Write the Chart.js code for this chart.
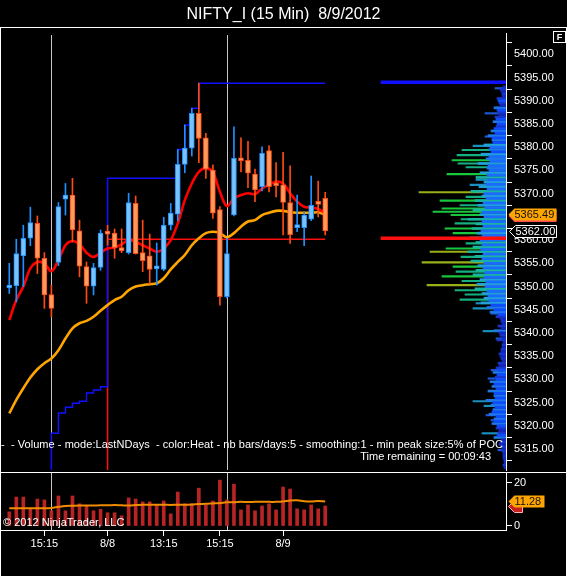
<!DOCTYPE html>
<html>
<head>
<meta charset="utf-8">
<script src="https://cdn.jsdelivr.net/npm/chart.js@4/dist/chart.umd.min.js"></script>
<style>
  body { margin: 0; background: #000; width: 567px; height: 576px; overflow: hidden; position: relative;
         font-family: "Liberation Sans", Arial, sans-serif; color: #fff; }
  canvas { position: absolute; left: 0; display: block; }
  .rule { position: absolute; background: #fff; }
  .txt { position: absolute; white-space: pre; font-size: 11px; line-height: 13px; }
  #title { position: absolute; left: 0; top: 5px; width: 567px; text-align: center; font-size: 16px; line-height: 17px; }
  #fbox { position: absolute; left: 553px; top: 31px; width: 11px; height: 10px; border: 1px solid #fff;
          font-size: 9px; font-weight: bold; line-height: 10px; text-align: center; }
</style>
</head>
<body>
<canvas id="price" width="567" height="481" style="top:0"></canvas>
<canvas id="vol" width="567" height="116" style="top:460px"></canvas>

<div id="title">NIFTY_I (15 Min)&nbsp; 8/9/2012</div>
<div class="rule" style="left:0;top:27px;width:567px;height:1px"></div>
<div class="rule" style="left:0;top:472px;width:567px;height:1px"></div>
<div class="rule" style="left:0;top:27px;width:1px;height:549px"></div>
<div class="rule" style="left:566px;top:27px;width:1px;height:549px"></div>
<div id="fbox">F</div>
<div class="txt" style="left:1px;top:438px;letter-spacing:0.05px">-  - Volume - mode:LastNDays  - color:Heat - nb bars/days:5 - smoothing:1 - min peak size:5% of POC</div>
<div class="txt" style="right:76px;top:450px">Time remaining = 00:09:43</div>
<div class="txt" style="left:3px;top:516px">© 2012 NinjaTrader, LLC</div>

<script>
// 15 min bars, oldest first
const candleOpen  = [5349.7, 5350.2, 5356.6, 5360.4, 5363.6, 5356.1, 5348.3, 5355.2, 5368.8, 5369.7,
                     5362.0, 5354.3, 5350.1, 5354.1, 5361.6, 5361.5, 5358.4, 5357.3, 5367.9, 5357.3,
                     5356.6, 5353.8, 5353.7, 5363.2, 5365.6, 5376.3, 5379.8, 5387.3, 5382.0, 5375.1,
                     5366.6, 5347.8, 5365.4, 5377.6, 5377.2, 5374.2, 5371.5, 5379.3, 5372.1, 5371.9,
                     5368.1, 5362.7, 5362.7, 5364.5, 5368.1, 5369.0];
const candleHigh  = [5355.0, 5360.2, 5363.2, 5367.1, 5365.2, 5357.3, 5350.3, 5368.1, 5372.2, 5373.3,
                     5364.3, 5355.3, 5355.0, 5362.2, 5363.2, 5362.4, 5362.4, 5370.1, 5369.5, 5364.3,
                     5361.3, 5359.4, 5364.9, 5367.9, 5379.5, 5384.8, 5388.4, 5393.8, 5383.0, 5376.2,
                     5367.2, 5360.4, 5384.4, 5382.0, 5381.3, 5375.3, 5380.1, 5380.3, 5376.7, 5378.9,
                     5376.0, 5369.7, 5366.1, 5373.8, 5372.7, 5370.3];
const candleLow   = [5348.5, 5346.7, 5350.0, 5358.8, 5352.8, 5345.3, 5343.5, 5354.5, 5365.4, 5359.6,
                     5352.1, 5346.4, 5348.2, 5353.5, 5358.9, 5356.1, 5357.3, 5357.0, 5357.0, 5353.2,
                     5350.6, 5350.3, 5353.4, 5362.2, 5364.2, 5374.5, 5378.1, 5376.7, 5373.3, 5364.7,
                     5346.0, 5347.5, 5365.2, 5374.7, 5371.3, 5368.3, 5370.6, 5370.4, 5369.3, 5361.1,
                     5359.3, 5361.8, 5358.8, 5364.2, 5365.0, 5361.1];
const candleClose = [5350.0, 5357.1, 5360.4, 5363.8, 5356.1, 5348.2, 5345.3, 5367.2, 5369.7, 5362.2,
                     5354.4, 5350.1, 5354.1, 5361.5, 5361.3, 5358.4, 5357.7, 5368.1, 5357.1, 5355.6,
                     5353.7, 5354.1, 5363.2, 5365.8, 5376.3, 5379.8, 5387.3, 5381.9, 5375.3, 5365.8,
                     5347.8, 5357.1, 5377.6, 5377.1, 5374.4, 5370.8, 5378.7, 5371.5, 5371.7, 5368.1,
                     5361.2, 5362.9, 5365.4, 5367.5, 5367.7, 5362.0];

const fastMA = [5342.8, 5347.1, 5350.0, 5353.9, 5355.3, 5355.0, 5353.3, 5355.7, 5358.9, 5359.8,
                5359.1, 5357.3, 5356.4, 5357.3, 5358.2, 5358.4, 5359.1, 5360.0, 5359.6, 5358.9,
                5358.2, 5357.5, 5358.2, 5360.0, 5363.6, 5368.6, 5372.2, 5374.7, 5375.5, 5374.6,
                5370.4, 5367.3, 5369.0, 5369.7, 5370.1, 5369.9, 5371.1, 5371.9, 5372.6, 5372.2,
                5370.1, 5368.3, 5367.2, 5367.0, 5366.7, 5365.8];
const slowMA = [5322.7, 5325.6, 5328.1, 5330.4, 5332.2, 5333.5, 5334.5, 5336.3, 5338.8, 5341.0,
                5342.1, 5342.6, 5343.5, 5344.8, 5346.0, 5347.1, 5347.8, 5349.2, 5350.0, 5350.3,
                5350.5, 5350.7, 5351.8, 5353.7, 5355.3, 5356.8, 5358.9, 5360.4, 5361.5, 5361.8,
                5361.5, 5360.6, 5361.5, 5362.9, 5364.0, 5364.3, 5365.4, 5365.9, 5366.3, 5366.3,
                5366.0, 5365.9, 5365.9, 5365.9, 5366.0, 5365.49];

// step lines (values under the panel are off screen)
const runHigh = [5300, 5300, 5300, 5300, 5300, 5300, 5318.4, 5322.8, 5324.0, 5324.9,
                 5325.3, 5327.1, 5327.7, 5328.4, 5373.3, 5373.3, 5373.3, 5373.3, 5373.3, 5373.3,
                 5373.3, 5373.3, 5373.3, 5373.3, 5379.5, 5384.8, 5388.4, 5393.8, 5393.8, 5393.8,
                 5393.8, 5393.8, 5393.8, 5393.8, 5393.8, 5393.8, 5393.8, 5393.8, 5393.8, 5393.8,
                 5393.8, 5393.8, 5393.8, 5393.8, 5393.8, 5393.8];
const prevPoc = [5300, 5300, 5300, 5300, 5300, 5300, 5300, 5300, 5300, 5300,
                 5300, 5300, 5300, 5300, 5360.2, 5360.2, 5360.2, 5360.2, 5360.2, 5360.2,
                 5360.2, 5360.2, 5360.2, 5360.2, 5360.2, 5360.2, 5360.2, 5360.2, 5360.2, 5360.2,
                 5360.2, 5360.2, 5360.2, 5360.2, 5360.2, 5360.2, 5360.2, 5360.2, 5360.2, 5360.2,
                 5360.2, 5360.2, 5360.2, 5360.2, 5360.2, 5360.2];

const volume   = [6.5, 13.3, 13.3, 8.2, 12.4, 12.0, 7.0, 13.8, 7.0, 13.8,
                  10.2, 9.4, 7.0, 7.7, 6.1, 6.1, 4.7, 12.9, 12.4, 11.1,
                  11.1, 9.7, 11.5, 5.6, 15.6, 10.2, 10.2, 17.4, 9.7, 11.5,
                  21.1, 12.0, 19.2, 7.4, 9.7, 7.0, 9.2, 10.2, 7.4, 17.9,
                  17.0, 7.9, 7.4, 9.7, 7.9, 9.2];
const volumeMA = [8.2, 8.2, 8.2, 8.2, 8.2, 8.2, 8.3, 8.8, 9.2, 9.3,
                  9.4, 9.4, 9.4, 9.5, 9.5, 9.6, 9.5, 9.4, 9.6, 9.8,
                  9.8, 9.8, 9.8, 9.7, 9.8, 9.8, 9.9, 10.1, 10.2, 10.4,
                  10.6, 10.9, 10.9, 11.1, 11.0, 11.1, 11.1, 11.1, 11.1, 11.3,
                  11.7, 11.8, 11.4, 11.3, 11.5, 11.28];

const sessionBreaks  = [6, 31];
const timeTickIdx    = [5, 14, 22, 30, 39];
const timeTickLabels = ['15:15', '8/8', '13:15', '15:15', '8/9'];
const priceTicks  = [5400, 5395, 5390, 5385, 5380, 5375, 5370, 5365, 5360, 5355,
                     5350, 5345, 5340, 5335, 5330, 5325, 5320, 5315];
const volumeTicks = [0, 20];

// volume profile (right side): rows on whole points, rows on half points, single long peaks
const profilePrice = [5393, 5392, 5391, 5390, 5389, 5388, 5387, 5386, 5385, 5384,
                      5383, 5382, 5381, 5380, 5379, 5378, 5377, 5376, 5375, 5374,
                      5373, 5372, 5371, 5370, 5369, 5368, 5367, 5366, 5365, 5364,
                      5363, 5362, 5361, 5360, 5359, 5358, 5357, 5356, 5355, 5354,
                      5353, 5352, 5351, 5350, 5349, 5348, 5347, 5346, 5345, 5344,
                      5343, 5342, 5341, 5340, 5339, 5338, 5337, 5336, 5335, 5334,
                      5333, 5332, 5331, 5330, 5329, 5328, 5327, 5326, 5325, 5324,
                      5323, 5322, 5321, 5320, 5319, 5318, 5317, 5316, 5315, 5314,
                      5313, 5312, 5311];
const profileVol   = [3, 5, 4, 8, 6, 9, 7, 10, 9, 12,
                      11, 14, 13, 16, 15, 17, 16, 18, 17, 19,
                      18, 20, 19, 22, 20, 23, 21, 24, 22, 24,
                      23, 25, 24, 26, 24, 25, 23, 24, 22, 23,
                      21, 22, 20, 21, 19, 18, 17, 15, 12, 8,
                      6, 4, 5, 7, 4, 3, 4, 5, 6, 4,
                      7, 8, 9, 10, 12, 10, 12, 11, 13, 11,
                      14, 10, 12, 9, 7, 9, 5, 7, 4, 3,
                      3, 2, 2];
const halfPrice = [5392.5, 5391.5, 5390.5, 5389.5, 5388.5, 5387.5, 5386.5, 5385.5, 5384.5, 5383.5,
                   5382.5, 5381.5, 5380.5, 5379.5, 5378.5, 5377.5, 5376.5, 5375.5, 5374.5, 5373.5,
                   5372.5, 5371.5, 5370.5, 5369.5, 5368.5, 5367.5, 5366.5, 5365.5, 5364.5, 5363.5,
                   5362.5, 5361.5, 5360.5, 5359.5, 5358.5, 5357.5, 5356.5, 5355.5, 5354.5, 5353.5,
                   5352.5, 5351.5, 5350.5, 5349.5, 5348.5, 5347.5, 5346.5, 5345.5, 5344.5, 5343.5,
                   5342.5, 5341.5, 5340.5, 5339.5, 5338.5, 5337.5, 5336.5, 5335.5, 5334.5, 5333.5,
                   5332.5, 5331.5, 5330.5, 5329.5, 5328.5, 5327.5, 5326.5, 5325.5, 5324.5, 5323.5,
                   5322.5, 5321.5, 5320.5, 5319.5, 5318.5, 5317.5, 5316.5, 5315.5, 5314.5, 5313.5,
                   5312.5, 5311.5];
const halfVol   = [6, 4, 9, 7, 12, 8, 11, 13, 10, 15,
                   18, 14, 22, 17, 25, 20, 28, 19, 26, 30,
                   22, 27, 35, 24, 31, 28, 33, 26, 38, 30,
                   34, 29, 36, 30, 33, 38, 31, 35, 28, 30,
                   33, 26, 29, 31, 24, 22, 25, 19, 16, 10,
                   5, 8, 12, 6, 9, 4, 5, 7, 5, 8,
                   10, 13, 11, 16, 14, 18, 12, 20, 15, 13,
                   17, 12, 14, 10, 8, 12, 6, 5, 4, 3,
                   2, 3];
const spikePrice = [5392.7, 5387.3, 5382.3, 5380.3, 5379.4, 5378.3, 5377.2, 5376.5, 5375.7, 5374.2,
                    5373.0, 5371.9, 5370.3, 5369.3, 5368.5, 5367.5, 5366.8, 5366.1, 5365.4, 5364.5,
                    5363.6, 5362.5, 5361.5, 5359.3, 5358.2, 5357.5, 5356.4, 5355.2, 5354.3, 5353.2,
                    5352.2, 5351.2, 5350.3, 5349.2, 5348.3, 5347.2, 5346.4, 5345.3, 5344.2, 5340.4,
                    5338.8, 5332.0, 5330.2, 5325.3, 5324.3, 5322.3, 5321.2, 5318.4, 5314.8];
const spikeVol   = [11, 21, 21, 33, 44, 49, 54, 48, 40, 59,
                    30, 36, 87, 40, 66, 46, 64, 73, 55, 45,
                    51, 61, 53, 40, 60, 76, 45, 84, 53, 50,
                    64, 44, 79, 51, 41, 46, 30, 33, 15, 23,
                    10, 15, 18, 33, 22, 20, 15, 24, 8];
const markPrice = [5360.4, 5394.0];
const markVol   = [125, 125];

Chart.defaults.font.family = '"Liberation Sans", Arial, sans-serif';
Chart.defaults.font.size = 11;
Chart.defaults.color = '#fff';

const X_MIN = -1.18, X_MAX = 70.75;
const isUp = candleClose.map((c, i) => c >= candleOpen[i]);
const UP_FILL = '#78c2ff', UP_LINE = '#1e90ff', DN_FILL = '#ff9a5c', DN_LINE = '#ff4a12';

// heat scale of the profile: blue for thin rows, green/olive for the biggest ones
function heatColor(v) {
    const t = v / 125;
    if (t > 0.6) return '#9ab018';
    if (t > 0.42) return '#18c83c';
    if (t > 0.3) return '#14b080';
    if (t > 0.17) return '#1a90c0';
    return '#1c58d8';
}
function halfColor(v) {
    if (v < 12) return '#1a36c8';
    if (v < 22) return '#1e78e6';
    if (v < 30) return '#22a0d8';
    return '#18b4a0';
}
function coreColor(v) {
    if (v < 8) return '#1028c0';
    if (v < 16) return '#0d4cff';
    return '#1a6cff';
}

const sessionLines = {
    id: 'sessionLines',
    beforeDatasetsDraw(chart, args, opts) {
        const {ctx, chartArea: a, scales: {x}} = chart;
        ctx.save();
        ctx.strokeStyle = '#c8c8c8';
        ctx.lineWidth = 1;
        sessionBreaks.forEach(i => {
            const px = Math.round(x.getPixelForValue(i)) + 0.5;
            ctx.beginPath();
            ctx.moveTo(px, a.top + (opts.topGap || 0));
            ctx.lineTo(px, a.bottom);
            ctx.stroke();
        });
        ctx.restore();
    }
};

function drawTag(ctx, x, y, w, fill, stroke, text, textColor) {
    const h = 12;
    ctx.save();
    ctx.beginPath();
    ctx.moveTo(x, y);
    ctx.lineTo(x + 6, y - h / 2);
    ctx.lineTo(x + w, y - h / 2);
    ctx.lineTo(x + w, y + h / 2);
    ctx.lineTo(x + 6, y + h / 2);
    ctx.closePath();
    ctx.fillStyle = fill;
    ctx.fill();
    if (stroke) {
        ctx.strokeStyle = stroke;
        ctx.lineWidth = 1;
        ctx.stroke();
    }
    ctx.fillStyle = textColor;
    ctx.font = '11px "Liberation Sans", Arial, sans-serif';
    ctx.textBaseline = 'middle';
    ctx.textAlign = 'left';
    ctx.fillText(text, x + 6, y + 0.5);
    ctx.restore();
}

const priceTags = {
    id: 'priceTags',
    afterDraw(chart) {
        const {ctx, scales: {y}} = chart;
        const last = candleClose.length - 1;
        const ySlow = Math.round(y.getPixelForValue(slowMA[last])) - 0.5;
        drawTag(ctx, 508.5, ySlow + 1.5, 48, '#ff5050', null, '', '#000');
        drawTag(ctx, 508.5, ySlow, 48, '#ffa500', null, slowMA[last].toFixed(2), '#111');
        drawTag(ctx, 509.5, Math.round(y.getPixelForValue(candleClose[last])) + 0.5, 47, '#000', '#fff', candleClose[last].toFixed(2), '#fff');
    }
};

const volTags = {
    id: 'volTags',
    afterDraw(chart) {
        const {ctx, scales: {y}} = chart;
        const last = volume.length - 1;
        drawTag(ctx, 508.5, Math.round(y.getPixelForValue(volume[last])) + 0.5, 14, '#c81e1e', '#ffb0b0', '', '#fff');
        drawTag(ctx, 508.5, Math.round(y.getPixelForValue(volumeMA[last])) + 0.5, 36, '#ffa500', null, volumeMA[last].toFixed(2), '#111');
    }
};

const pts = arr => arr.map((v, i) => ({x: i, y: v}));
const hbars = (prices, vols) => prices.map((p, i) => ({x: vols[i], y: p}));
const profileSet = (order, prices, vols, colorFn, thickness) => ({
    type: 'bar', order, indexAxis: 'y', grouped: false, xAxisID: 'xp', yAxisID: 'y',
    data: hbars(prices, vols),
    backgroundColor: c => colorFn(c.raw ? c.raw.x : 0), barThickness: thickness
});

new Chart(document.getElementById('price'), {
    type: 'bar',
    data: {
        datasets: [
            {   // candle bodies
                type: 'bar', order: 1, grouped: false, xAxisID: 'x', yAxisID: 'y',
                data: candleOpen.map((o, i) => ({x: i, y: [o, candleClose[i]]})),
                backgroundColor: isUp.map(u => u ? UP_FILL : DN_FILL),
                borderColor: isUp.map(u => u ? UP_LINE : DN_LINE),
                borderWidth: 1, borderSkipped: false, barThickness: 5, minBarLength: 3
            },
            {   // wicks
                type: 'bar', order: 2, grouped: false, xAxisID: 'x', yAxisID: 'y',
                data: candleLow.map((l, i) => ({x: i, y: [l, candleHigh[i]]})),
                backgroundColor: isUp.map(u => u ? UP_LINE : DN_LINE),
                barThickness: 1
            },
            {
                type: 'line', order: 3, xAxisID: 'x', yAxisID: 'y', data: pts(fastMA),
                borderColor: '#ff0000', borderWidth: 2.6, pointRadius: 0, tension: 0.35
            },
            {
                type: 'line', order: 4, xAxisID: 'x', yAxisID: 'y', data: pts(slowMA),
                borderColor: '#ffa500', borderWidth: 2.6, pointRadius: 0, tension: 0.35
            },
            {
                type: 'line', order: 5, xAxisID: 'x', yAxisID: 'y', data: pts(runHigh),
                borderColor: '#1010ff', borderWidth: 1.5, pointRadius: 0, stepped: 'before'
            },
            {
                type: 'line', order: 6, xAxisID: 'x', yAxisID: 'y', data: pts(prevPoc),
                borderColor: '#ff1010', borderWidth: 1.5, pointRadius: 0, stepped: 'before'
            },
            {   // POC and top marks of the profile
                type: 'bar', order: 7, indexAxis: 'y', grouped: false, xAxisID: 'xp', yAxisID: 'y',
                data: hbars(markPrice, markVol),
                backgroundColor: ['#ff1010', '#1010ff'], barThickness: 3
            },
            profileSet(8, profilePrice, profileVol, coreColor, 2.2),
            profileSet(9, halfPrice, halfVol, halfColor, 2.0),
            profileSet(10, spikePrice, spikeVol, heatColor, 1.5)
        ]
    },
    options: {
        responsive: false, maintainAspectRatio: false, animation: false, events: [],
        layout: {padding: {left: 1, top: 33, right: 0, bottom: 11}},
        plugins: {legend: {display: false}, tooltip: {enabled: false}, sessionLines: {topGap: 2}},
        scales: {
            x: {type: 'linear', offset: false, min: X_MIN, max: X_MAX, display: false},
            xp: {type: 'linear', axis: 'x', offset: false, min: 0, max: 505, reverse: true, display: false},
            y: {
                type: 'linear', position: 'right', offset: false, min: 5310.5, max: 5404.6,
                afterBuildTicks: s => { s.ticks = priceTicks.map(v => ({value: v})); },
                afterFit: s => { s.width = 61; },
                grid: {drawOnChartArea: false, color: '#fff', tickLength: 6},
                border: {display: true, color: '#fff', width: 1},
                ticks: {color: '#fff', padding: 2, font: {size: 11}, callback: v => v.toFixed(2)}
            }
        }
    },
    plugins: [sessionLines, priceTags]
});

new Chart(document.getElementById('vol'), {
    type: 'bar',
    data: {
        datasets: [
            {
                type: 'line', order: 1, data: pts(volumeMA),
                borderColor: '#f08c00', borderWidth: 2, pointRadius: 0, tension: 0.35
            },
            {
                type: 'bar', order: 2, grouped: false, data: pts(volume),
                backgroundColor: '#b82424', barThickness: 3
            }
        ]
    },
    options: {
        responsive: false, maintainAspectRatio: false, animation: false, events: [],
        layout: {padding: {left: 1, top: 13, right: 0, bottom: 0}},
        plugins: {legend: {display: false}, tooltip: {enabled: false}, sessionLines: {topGap: 0}},
        scales: {
            x: {
                type: 'linear', offset: false, min: X_MIN, max: X_MAX,
                afterBuildTicks: s => { s.ticks = timeTickIdx.map(v => ({value: v})); },
                afterFit: s => { s.height = 46; },
                grid: {drawOnChartArea: false, offset: false, color: '#fff', tickLength: 6},
                border: {display: true, color: '#fff', width: 1},
                ticks: {color: '#fff', padding: 1, maxRotation: 0, autoSkip: false,
                        font: {size: 11}, callback: (v, i) => timeTickLabels[i]}
            },
            y: {
                type: 'linear', position: 'right', min: -1.84, max: 24.37,
                afterBuildTicks: s => { s.ticks = volumeTicks.map(v => ({value: v})); },
                afterFit: s => { s.width = 61; },
                grid: {drawOnChartArea: false, color: '#fff', tickLength: 6},
                border: {display: true, color: '#fff', width: 1},
                ticks: {color: '#fff', padding: 2, font: {size: 11}, callback: v => String(v)}
            }
        }
    },
    plugins: [sessionLines, volTags]
});
</script>
</body>
</html>
